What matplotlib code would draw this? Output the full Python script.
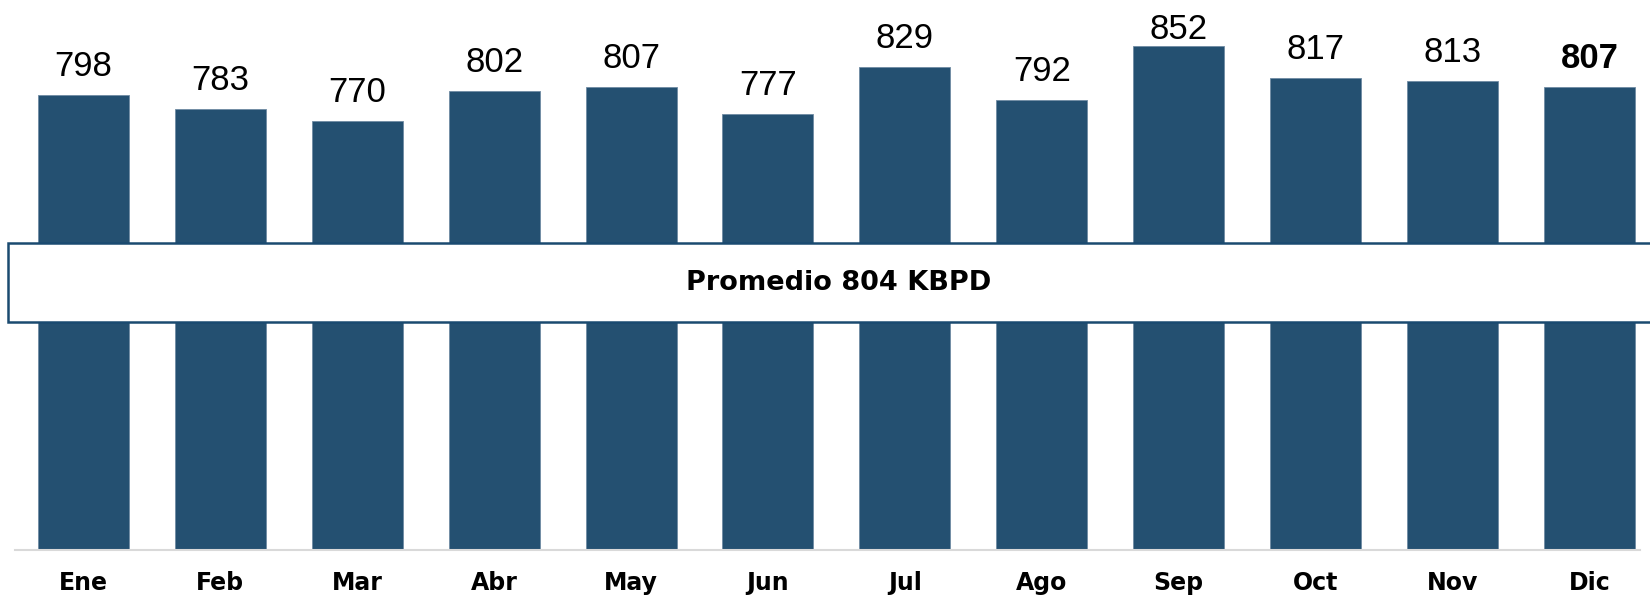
import matplotlib
matplotlib.use("Agg")
import matplotlib.pyplot as plt
from matplotlib.patches import Rectangle
from matplotlib import font_manager

months = ["Ene", "Feb", "Mar", "Abr", "May", "Jun", "Jul", "Ago", "Sep", "Oct", "Nov", "Dic"]
values = [798, 783, 770, 802, 807, 777, 829, 792, 852, 817, 813, 807]
bold_labels = [False] * 11 + [True]
avg_text = "Promedio 804 KBPD"

avail = {f.name for f in font_manager.fontManager.ttflist}
num_font = "Liberation Sans Narrow" if "Liberation Sans Narrow" in avail else "Liberation Sans"

W, H, DPI = 1650, 596, 100
fig = plt.figure(figsize=(W / DPI, H / DPI), dpi=DPI)
ax = fig.add_axes([15 / W, (H - 550) / H, (1640 - 15) / W, 550 / H])

bar_color = "#245071"
x = list(range(len(months)))
ax.bar(x, values, width=0.665, color=bar_color, edgecolor="#6f8ba3", linewidth=0.6, zorder=2)
ax.set_xlim(-0.5, 11.37)
ax.set_ylim(300, 902)

# label baseline: 19px above bar top, but never higher than 39px from figure top
min_baseline_from_top = 39
for xi, v, b in zip(x, values, bold_labels):
    top_px = ax.transData.transform((xi, v))[1]
    base_px = min(top_px + 19, H - min_baseline_from_top)
    yb = ax.transData.inverted().transform((0, base_px))[1]
    ax.text(xi, yb, str(v), ha="center", va="baseline", fontsize=25,
            fontweight="bold" if b else "normal", family=num_font, color="black")

for s in ["top", "right", "left"]:
    ax.spines[s].set_visible(False)
ax.spines["bottom"].set_color("#d9d9d9")
ax.spines["bottom"].set_linewidth(1.5)
ax.set_yticks([])
ax.set_xticks(x)
ax.set_xticklabels(months, fontsize=17, fontweight="bold", family="DejaVu Sans")
ax.tick_params(axis="x", length=0, pad=15)

box = Rectangle((8, H - 322), 1700, 79, transform=None, facecolor="white",
                edgecolor="#1a4a70", linewidth=1.8, zorder=5)
fig.patches.append(box)
fig.text(839 / W, (H - 283) / H, avg_text, ha="center", va="center",
         fontsize=19.5, fontweight="bold", family="DejaVu Sans", zorder=6)

fig.savefig("out.png", dpi=DPI)
